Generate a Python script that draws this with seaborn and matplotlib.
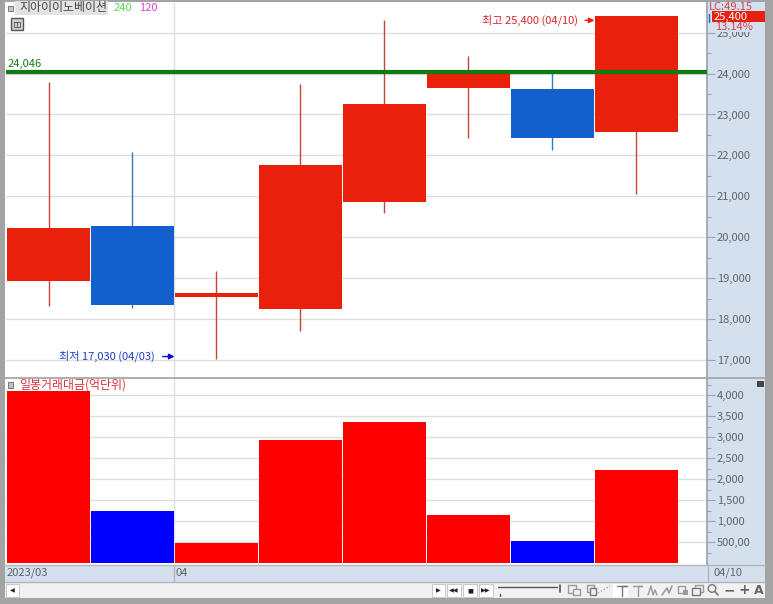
import pandas as pd
import matplotlib.pyplot as plt
from matplotlib.patches import Rectangle, Circle
import seaborn as sns

# values
dates = ['03/30', '03/31', '04/03', '04/04', '04/05', '04/06', '04/07', '04/10']
opens = [18936, 20280, 18530, 18240, 20870, 23650, 23620, 22570]
closes = [20232, 18350, 18640, 21770, 23250, 24040, 22430, 25400]
highs = [23790, 22090, 19180, 23740, 25310, 24430, 24040, 25400]
lows = [18325, 18280, 17030, 17700, 20600, 22430, 22140, 21060]
volume = [4095, 1238, 476, 2930, 3357, 1143, 524, 2214]
price_ticks = [17000, 18000, 19000, 20000, 21000, 22000, 23000, 24000, 25000]
price_minor = [17500, 18500, 19500, 20500, 21500, 22500, 23500, 24500]
price_labels = ['17,000', '18,000', '19,000', '20,000', '21,000', '22,000', '23,000', '24,000', '25,000']
vol_ticks = [500, 1000, 1500, 2000, 2500, 3000, 3500, 4000]
vol_minor = [250, 750, 1250, 1750, 2250, 2750, 3250, 3750, 4250]
vol_labels = ['500,00', '1,000', '1,500', '2,000', '2,500', '3,000', '3,500', '4,000']
ref_price = 24046

W, H = 773, 604
CANDLE_RED = '#e8200c'
CANDLE_BLUE = '#1260cc'
STRIP = '#d5e0ef'
FRAME = '#a3a3a3'
TICK = '#5f6368'
GRID = '#dedede'

sns.set_theme(style='white')
plt.rcParams['font.family'] = ['Noto Sans CJK KR', 'DejaVu Sans']

df = pd.DataFrame({'date': dates, 'open': opens, 'close': closes,
                   'high': highs, 'low': lows, 'volume': volume})
df['low_body'] = df[['open', 'close']].min(axis=1)
df['height'] = (df['close'] - df['open']).abs()
df['up'] = df['close'] >= df['open']
df['pos'] = range(len(df))


def px_axes(x0, y0, x1, y1):
    # axes placed by pixel box, y measured from the top
    return fig.add_axes([x0 / W, 1 - y1 / H, (x1 - x0) / W, (y1 - y0) / H])


fig = plt.figure(figsize=(W / 100, H / 100), dpi=100, facecolor=FRAME)

# window chrome behind everything
bg = fig.add_axes([0, 0, 1, 1], zorder=0)
bg.set_xlim(0, W)
bg.set_ylim(H, 0)
bg.axis('off')
bg.add_patch(Rectangle((5, 2), 760, 596, fc='white', ec='none'))
bg.add_patch(Rectangle((707, 2), 58, 563, fc=STRIP, ec='none'))
bg.add_patch(Rectangle((5, 565), 760, 17, fc=STRIP, ec='none'))
bg.add_patch(Rectangle((5, 582), 760, 16, fc='#f1f1f1', ec='none'))
bg.plot([5, 765], [565, 565], color='#b5b5b5', lw=1)
bg.plot([5, 765], [582, 582], color='#b5b5b5', lw=1)
bg.plot([708, 708], [565, 582], color='#b5b5b5', lw=1)
bg.plot([174, 174], [565, 582], color='#b5b5b5', lw=1)

xlim = (-0.506, 7.84)

# price panel
ax = px_axes(6, 3, 707, 377)
ax.set_zorder(2)
for color, wick, is_up in [(CANDLE_RED, '#c9423a', True), (CANDLE_BLUE, '#3d7ab5', False)]:
    part = df[df['up'] == is_up]
    ax.vlines(part['pos'], part['low'], part['high'], color=wick, lw=1, zorder=2)
    sns.barplot(data=part, x='date', y='height', order=dates, bottom=part['low_body'].values,
                color=color, saturation=1, width=0.985, linewidth=0, ax=ax, zorder=3)
ax.axhline(ref_price, color='#0f7a12', lw=3, zorder=4)
ax.set_xlim(*xlim)
ax.set_ylim(16585, 25724)
ax.set_xlabel('')
ax.set_ylabel('')
ax.set_xticks([1.5])
ax.set_xticklabels([])
ax.yaxis.tick_right()
ax.set_yticks(price_ticks)
ax.set_yticklabels(price_labels)
ax.set_yticks(price_minor, minor=True)

ax.annotate('최고 25,400 (04/10)', xy=(6.5, 25300), xytext=(6.3, 25300),
            color='#d8242c', fontsize=8, va='center', ha='right',
            arrowprops=dict(arrowstyle='-|>', color=CANDLE_RED, lw=1, shrinkA=3, shrinkB=0, mutation_scale=8))
ax.annotate('최저 17,030 (04/03)', xy=(1.5, 17085), xytext=(1.27, 17085),
            color='#1a3fc4', fontsize=8, va='center', ha='right',
            arrowprops=dict(arrowstyle='-|>', color='#0000e0', lw=1, shrinkA=3, shrinkB=0, mutation_scale=8))
ax.text(-0.49, ref_price + 70, f'{ref_price:,}', color='#1c7a1c', fontsize=8, va='bottom', ha='left')

# volume panel
ax2 = px_axes(6, 378, 707, 564)
ax2.set_zorder(2)
sns.barplot(data=df, x='date', y='volume', hue='up', hue_order=[True, False],
            palette={True: '#ff0000', False: '#0000ff'}, dodge=False, saturation=1,
            width=0.985, linewidth=0, legend=False, ax=ax2, zorder=3)
ax2.set_xlim(*xlim)
ax2.set_ylim(-12, 4405)
ax2.set_xlabel('')
ax2.set_ylabel('')
ax2.set_xticks([1.5])
ax2.set_xticklabels([])
ax2.yaxis.tick_right()
ax2.set_yticks(vol_ticks)
ax2.set_yticklabels(vol_labels)
ax2.set_yticks(vol_minor, minor=True)

for a in [ax, ax2]:
    a.patch.set_alpha(0)
    a.grid(True, which='major', color=GRID, lw=1, zorder=0)
    a.set_axisbelow(True)
    for s in ['top', 'left', 'bottom']:
        a.spines[s].set_visible(False)
    a.spines['right'].set_color('#9aa3ad')
    a.tick_params(axis='y', which='major', right=True, length=6, width=0.8, color='#9aa3ad',
                  labelcolor=TICK, labelsize=8, pad=1)
    a.tick_params(axis='y', which='minor', right=True, length=3, width=0.8, color='#9aa3ad')
    a.tick_params(axis='x', length=0)

# overlay text and small widgets
top = fig.add_axes([0, 0, 1, 1], zorder=5)
top.set_xlim(0, W)
top.set_ylim(H, 0)
top.axis('off')
top.plot([5, 765], [377.5, 377.5], color='#a8a8a8', lw=1.3)

top.add_patch(Rectangle((15, 1), 93, 14, fc='#e2e2e2', ec='none'))
top.add_patch(Rectangle((8, 6), 5, 5, fc='#c9c9c9', ec='#777777', lw=0.7))
top.text(19, 8, '지아이이노베이션', color='#444444', fontsize=8.6, va='center')
top.text(114, 8, '240', color='#55dd55', fontsize=8, va='center')
top.text(139, 8, '120', color='#e040e0', fontsize=8, va='center')
top.add_patch(Rectangle((11, 18), 12, 12, fc='#d0d0d0', ec='#555555', lw=1))
top.plot([14, 20, 20, 14, 14, 17, 17], [22, 22, 27, 27, 22, 22, 27], color='#555555', lw=0.6)

top.add_patch(Rectangle((712, 23), 46, 9, fc=STRIP, ec='none'))
top.text(709, 7, 'LC:49.15', color='#d8404a', fontsize=8, va='center')
top.add_patch(Rectangle((712, 11), 53, 11, fc=CANDLE_RED, ec='none'))
top.text(714, 16.5, '25,400', color='white', fontsize=8, va='center')
top.text(715, 27.5, '13.14%', color='#d8404a', fontsize=8, va='center')
top.plot([709, 709], [14, 22], color='#2060c0', lw=1)

top.add_patch(Rectangle((8, 382), 5, 6, fc='#c0c0c0', ec='#777777', lw=0.7))
top.text(19, 385, '일봉거래대금(억단위)', color='#d8303a', fontsize=8.6, va='center')
top.add_patch(Rectangle((757, 381), 7, 6, fc='#444444', ec='none'))

top.text(7, 573, '2023/03', color=TICK, fontsize=8, va='center')
top.text(175, 573, '04', color=TICK, fontsize=8, va='center')
top.text(714, 573, '04/10', color=TICK, fontsize=8, va='center')

# scroll bar and tool buttons
for x0, w, label in [(6, 13, '◀'), (432, 13, '▶'), (447, 14, '◀◀'), (463, 14, '■'), (479, 14, '▶▶')]:
    top.add_patch(Rectangle((x0, 584), w, 13, fc='white', ec='#c8c8c8', lw=0.7))
    top.text(x0 + w / 2, 590.5, label, color='#222222', fontsize=4.5, ha='center', va='center',
             family='DejaVu Sans')
top.plot([498, 557], [587, 587], color='#555555', lw=1)
top.plot([560, 560], [585, 592], color='#555555', lw=1.2)
top.plot([500, 500], [594, 596], color='#555555', lw=1)

ICON = '#9a9a9a'
top.add_patch(Rectangle((613, 584), 15, 13, fc='white', ec='none'))
top.add_patch(Rectangle((568, 585), 8, 8, fc='none', ec=ICON, lw=1))
top.add_patch(Rectangle((573, 589), 7, 6, fc='#f1f1f1', ec=ICON, lw=1))
top.add_patch(Rectangle((587, 585), 7, 7, fc='none', ec=ICON, lw=1))
top.add_patch(Rectangle((590, 588), 6, 7, fc='#f1f1f1', ec='#777777', lw=1))
top.plot([598, 610], [593, 586], color=ICON, lw=0.9, ls=':')
top.plot([617, 627, 622, 622], [586, 586, 586, 596], color='#777777', lw=1)
top.plot([633, 642, 638, 638], [586, 586, 586, 596], color=ICON, lw=1)
top.plot([648, 651, 653, 655, 657], [595, 586, 595, 590, 595], color=ICON, lw=1)
top.plot([662, 667, 669, 672], [595, 588, 593, 586], color=ICON, lw=1.2)
top.add_patch(Rectangle((678, 586), 7, 7, fc='none', ec=ICON, lw=1))
top.add_patch(Rectangle((683, 590), 5, 5, fc=ICON, ec='none'))
top.add_patch(Rectangle((695, 585), 8, 7, fc='none', ec=ICON, lw=1))
top.add_patch(Rectangle((692, 588), 8, 7, fc='#f1f1f1', ec='#777777', lw=1))
top.add_patch(Circle((712, 588.5), 3.8, fc='none', ec='#777777', lw=1))
top.plot([715, 718], [591.5, 595], color='#777777', lw=1.2)
top.text(729, 590, '−', color='#666666', fontsize=10, ha='center', va='center', family='DejaVu Sans', weight='bold')
top.text(744, 590, '+', color='#666666', fontsize=10, ha='center', va='center', family='DejaVu Sans', weight='bold')
top.text(759, 590, 'A', color='#666666', fontsize=9, ha='center', va='center', family='DejaVu Sans', weight='bold')

fig.savefig('out.png', dpi=100, facecolor=fig.get_facecolor())
